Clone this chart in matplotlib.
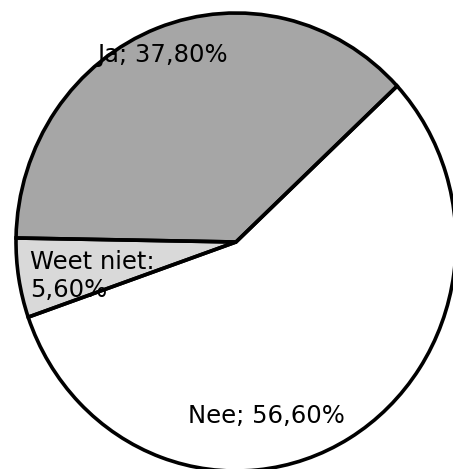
import matplotlib
matplotlib.use('Agg')
import matplotlib.pyplot as plt

# Survey answers (share of respondents, %)
labels = ['Ja', 'Nee', 'Weet niet']
values = [37.8, 56.6, 5.6]
label_texts = ['Ja; 37,80%', 'Nee; 56,60%', 'Weet niet:\n5,60%']
colours = ['#a6a6a6', '#ffffff', '#d9d9d9']

W, H = 453, 469
fig = plt.figure(figsize=(W / 100, H / 100), dpi=100, facecolor='white')

# pie is slightly taller than wide, centre near (236,242) px from top-left
cx, cy, rx, ry = 236, 242, 220, 229
ax = fig.add_axes([(cx - rx) / W, (H - cy - ry) / H, 2 * rx / W, 2 * ry / H])

wedges, _ = ax.pie(values, colors=colours, startangle=179, counterclock=False,
                   radius=1, wedgeprops=dict(linewidth=0))
for w in wedges:
    w.set_clip_on(False)
    w.set_zorder(1)

# labels sit under the outlines
font = dict(family='DejaVu Sans', size=17.5, color='black')
pos = [(97, 62), (188, 423), (30, 297)]
for txt, (px, py) in zip(label_texts, pos):
    ax.text(px / W, 1 - py / H, txt, transform=fig.transFigure,
            ha='left', va='baseline', linespacing=1.2, zorder=3,
            clip_on=False, **font)

# outlines on top
edges, _ = ax.pie(values, colors=['none'] * 3, startangle=179,
                  counterclock=False, radius=1,
                  wedgeprops=dict(edgecolor='black', linewidth=2.6,
                                  facecolor='none'))
for e in edges:
    e.set_clip_on(False)
    e.set_zorder(5)

ax.set_aspect('auto')
ax.set_xlim(-1, 1)
ax.set_ylim(-1, 1)
ax.axis('off')

fig.savefig('out.png', dpi=100, facecolor='white')
